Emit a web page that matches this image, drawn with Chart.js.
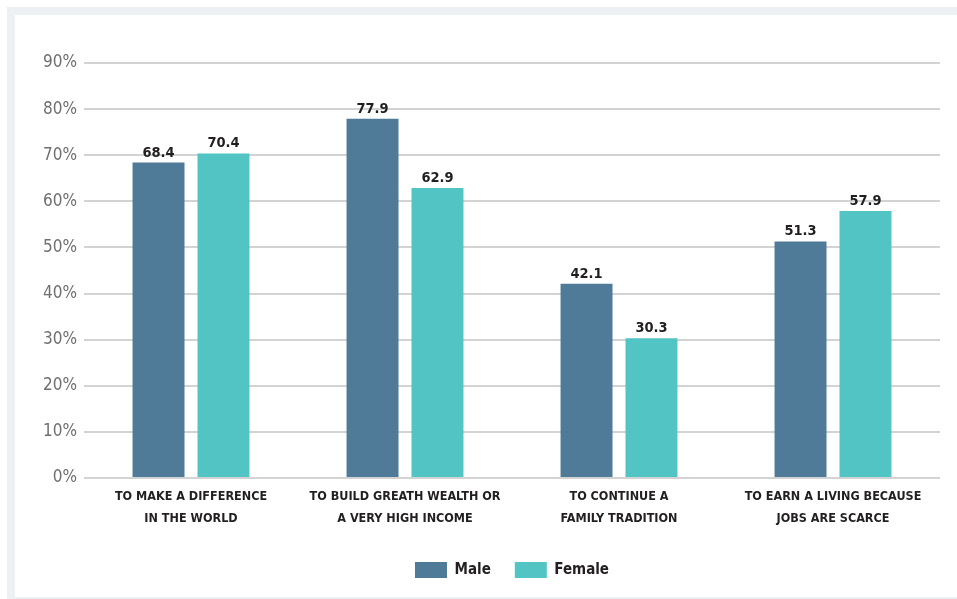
<!DOCTYPE html>
<html>
<head>
<meta charset="utf-8">
<script src="https://cdn.jsdelivr.net/npm/chart.js@4.4.1/dist/chart.umd.min.js"></script>
<style>
  html, body { margin: 0; padding: 0; background: #fff; }
  #frame {
    position: absolute; left: 7px; top: 7px; width: 950px; height: 592px;
    background: #edf1f4;
  }
  #inner {
    position: absolute; left: 8px; top: 8px; right: 0; bottom: 2px;
    background: #fff;
  }
  #wrap { position: absolute; left: 0; top: 0; width: 957px; height: 599px; }
</style>
</head>
<body>
<div id="frame"><div id="inner"></div></div>
<div id="wrap"><canvas id="motiveChart"></canvas></div>
<script>
// chart values
const categories = [
    ['TO MAKE A DIFFERENCE', 'IN THE WORLD'],
    ['TO BUILD GREATH WEALTH OR', 'A VERY HIGH INCOME'],
    ['TO CONTINUE A', 'FAMILY TRADITION'],
    ['TO EARN A LIVING BECAUSE', 'JOBS ARE SCARCE']
];
const maleValues = [68.4, 77.9, 42.1, 51.3];
const femaleValues = [70.4, 62.9, 30.3, 57.9];
const yTicks = [0, 10, 20, 30, 40, 50, 60, 70, 80, 90];

const FONT = "'DejaVu Sans Condensed', 'Liberation Sans Narrow', sans-serif";
const DARK = '#231f20';

// writes the value over every bar
const valueLabels = {
    id: 'valueLabels',
    afterDatasetsDraw(chart) {
        const ctx = chart.ctx;
        ctx.save();
        ctx.font = 'bold 14.5px ' + FONT;
        ctx.fillStyle = DARK;
        ctx.textAlign = 'center';
        ctx.textBaseline = 'alphabetic';
        chart.data.datasets.forEach((ds, i) => {
            chart.getDatasetMeta(i).data.forEach((bar, j) => {
                ctx.fillText(ds.data[j].toFixed(1), bar.x, bar.y - 6);
            });
        });
        ctx.restore();
    }
};

const ctx = document.getElementById('motiveChart').getContext('2d');
new Chart(ctx, {
    type: 'bar',
    data: {
        labels: categories,
        datasets: [
            { label: 'Male', data: maleValues, backgroundColor: '#507b98' },
            { label: 'Female', data: femaleValues, backgroundColor: '#52c4c4' }
        ]
    },
    options: {
        responsive: true,
        maintainAspectRatio: false,
        animation: false,
        categoryPercentage: 0.607,
        barPercentage: 0.8,
        layout: { padding: { left: 0, right: 17, top: 63, bottom: 11 } },
        plugins: {
            tooltip: { enabled: false },
            legend: {
                position: 'bottom',
                fullSize: false,
                labels: {
                    boxWidth: 32,
                    boxHeight: 16,
                    padding: 24,
                    color: DARK,
                    font: { family: FONT, size: 15, weight: 'bold' }
                }
            }
        },
        scales: {
            x: {
                grid: { display: false, drawTicks: false },
                border: { display: false },
                ticks: {
                    color: DARK,
                    padding: 8,
                    maxRotation: 0,
                    autoSkip: false,
                    font: { family: FONT, size: 12.5, weight: 'bold', lineHeight: 1.76 }
                }
            },
            y: {
                min: 0,
                max: 90,
                border: { display: false },
                grid: { color: '#d3d3d3', lineWidth: 2, drawTicks: false },
                afterFit(scale) { scale.width = 84; },
                afterBuildTicks(scale) { scale.ticks = yTicks.map(v => ({ value: v })); },
                ticks: {
                    color: '#6f6f6f',
                    padding: 7,
                    font: { family: FONT, size: 17 },
                    callback: v => v + '%'
                }
            }
        }
    },
    plugins: [valueLabels]
});
</script>
</body>
</html>
